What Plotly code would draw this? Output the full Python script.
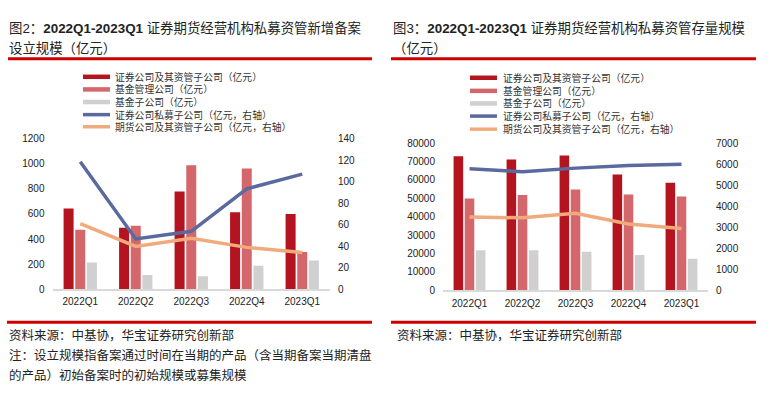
import plotly.graph_objects as go

categories = ["2022Q1", "2022Q2", "2022Q3", "2022Q4", "2023Q1"]

# Figure 2: new filings (亿元)
new_sec = [643, 490, 779, 613, 600]
new_fund = [474, 505, 987, 962, 297]
new_fund_sub = [213, 113, 103, 187, 228]
new_sec_pe = [118.5, 46.7, 53.8, 93.3, 107.0]
new_fut = [61.0, 39.8, 47.3, 38.9, 34.1]

# Figure 3: outstanding (亿元)
stock_sec = [72960, 71200, 73300, 62940, 58540]
stock_fund = [49930, 51860, 54850, 52040, 50980]
stock_fund_sub = [21800, 21800, 20920, 19160, 17050]
stock_sec_pe = [5784, 5645, 5815, 5937, 5999]
stock_fut = [3492, 3446, 3661, 3153, 2938]

legend_names = [
    "证券公司及其资管子公司（亿元）",
    "基金管理公司（亿元）",
    "基金子公司（亿元）",
    "证券公司私募子公司（亿元，右轴）",
    "期货公司及其资管子公司（亿元，右轴）",
]

RED = "#B3141F"
PINK = "#D3676B"
GREY = "#D0D0D0"
BLUE = "#5A6A9F"
ORANGE = "#F1AA7B"
TITLE_RED = "#CC0000"

W, H = 774, 399
def px(x):
    return x / W
def py(y):
    return 1 - y / H

fig = go.Figure()

bar_colors = [RED, PINK, GREY]
left_bars = [new_sec, new_fund, new_fund_sub]
right_bars = [stock_sec, stock_fund, stock_fund_sub]
for vals, c in zip(left_bars, bar_colors):
    fig.add_trace(go.Bar(x=categories, y=vals, marker=dict(color=c, line=dict(width=0)),
                         xaxis="x", yaxis="y", showlegend=False))
for vals, c in zip(right_bars, bar_colors):
    fig.add_trace(go.Bar(x=categories, y=vals, marker=dict(color=c, line=dict(width=0)),
                         xaxis="x2", yaxis="y3", showlegend=False))

for vals, c in [(new_sec_pe, BLUE), (new_fut, ORANGE)]:
    fig.add_trace(go.Scatter(x=categories, y=vals, mode="lines",
                             line=dict(color=c, width=3.5), xaxis="x", yaxis="y2",
                             showlegend=False))
for vals, c in [(stock_sec_pe, BLUE), (stock_fut, ORANGE)]:
    fig.add_trace(go.Scatter(x=categories, y=vals, mode="lines",
                             line=dict(color=c, width=3.5), xaxis="x2", yaxis="y4",
                             showlegend=False))

tickfont = dict(family="Liberation Sans, Arial, sans-serif", size=10, color="#222")
hidden_ticks = dict(ticks="outside", ticklen=5, tickcolor="rgba(0,0,0,0)")

fig.update_layout(
    width=W, height=H,
    margin=dict(l=0, r=0, t=0, b=0),
    paper_bgcolor="white", plot_bgcolor="white",
    barmode="group", bargap=0.37, bargroupgap=0.14,
    showlegend=False,
    xaxis=dict(domain=[px(52.5), px(330)], showline=True, linecolor="#D9D9D9", linewidth=1.5,
               showgrid=False, tickfont=tickfont, ticks="outside", ticklen=2,
               tickcolor="rgba(0,0,0,0)", anchor="y"),
    yaxis=dict(domain=[py(292), py(136.7)], range=[0, 1200], dtick=200, showgrid=False,
               zeroline=False, showline=False, tickfont=tickfont, anchor="x", **hidden_ticks),
    yaxis2=dict(domain=[py(292), py(136.7)], range=[0, 140], dtick=20, overlaying="y", side="right",
                showgrid=False, zeroline=False, showline=False, tickfont=tickfont,
                anchor="x", **hidden_ticks),
    xaxis2=dict(domain=[px(443), px(708)], showline=True, linecolor="#D9D9D9", linewidth=1.5,
                showgrid=False, tickfont=tickfont, ticks="outside", ticklen=3,
                tickcolor="rgba(0,0,0,0)", anchor="y3"),
    yaxis3=dict(domain=[py(293), py(141.5)], range=[0, 80000], dtick=10000, tickformat="d",
                showgrid=False, zeroline=False, showline=False, tickfont=tickfont,
                anchor="x2", **hidden_ticks),
    yaxis4=dict(domain=[py(293), py(141.5)], range=[0, 7000], dtick=1000, tickformat="d",
                overlaying="y3", side="right", showgrid=False, zeroline=False, showline=False,
                tickfont=tickfont, anchor="x2", **hidden_ticks),
)

annotations = []
shapes = []
cjk = "Liberation Sans, Noto Sans CJK SC, sans-serif"

def text(x, y, s, size, color="#222", anchor="left"):
    annotations.append(dict(x=px(x), y=py(y), xref="paper", yref="paper", text=s,
                            showarrow=False, xanchor=anchor, yanchor="middle",
                            font=dict(family=cjk, size=size, color=color)))

def hline(x0, x1, y, color, width):
    shapes.append(dict(type="line", xref="paper", yref="paper", x0=px(x0), x1=px(x1),
                       y0=py(y), y1=py(y), line=dict(color=color, width=width)))

# Titles
text(7, 23, "图2：<b>2022Q1-2023Q1</b> 证券期货经营机构私募资管新增备案", 13.4)
text(7, 44, "设立规模（亿元）", 13.4)
text(391, 23, "图3：<b>2022Q1-2023Q1</b> 证券期货经营机构私募资管存量规模", 13.4)
text(391, 44, "（亿元）", 13.4)
hline(8, 372, 54.5, TITLE_RED, 3)
hline(391, 756, 54.5, TITLE_RED, 3)

# Footers
hline(7, 372, 326, TITLE_RED, 3)
hline(391, 756, 326, TITLE_RED, 3)
text(7, 340, "资料来源：中基协，华宝证券研究创新部", 12.5)
text(7, 360, "注：设立规模指备案通过时间在当期的产品（含当期备案当期清盘", 12.5)
text(7, 381, "的产品）初始备案时的初始规模或募集规模", 12.5)
text(395, 340, "资料来源：中基协，华宝证券研究创新部", 12.5)

# Legends (manual)
legend_colors = [RED, PINK, GREY, BLUE, ORANGE]
legend_widths = [4.5, 4.5, 4.5, 3.5, 3.5]
for (sx, tx, ys) in [(83, 113, [73, 86, 99, 112, 124.5]), (470, 501, [74, 87.5, 100.5, 113.5, 127])]:
    for name, c, w, y in zip(legend_names, legend_colors, legend_widths, ys):
        hline(sx, sx + 27, y, c, w)
        text(tx, y, name, 9.8, color="#333")

fig.update_layout(annotations=annotations, shapes=shapes)
fig.write_html("out.html", config={"displayModeBar": False},
               post_script="document.body.style.margin='0';")
